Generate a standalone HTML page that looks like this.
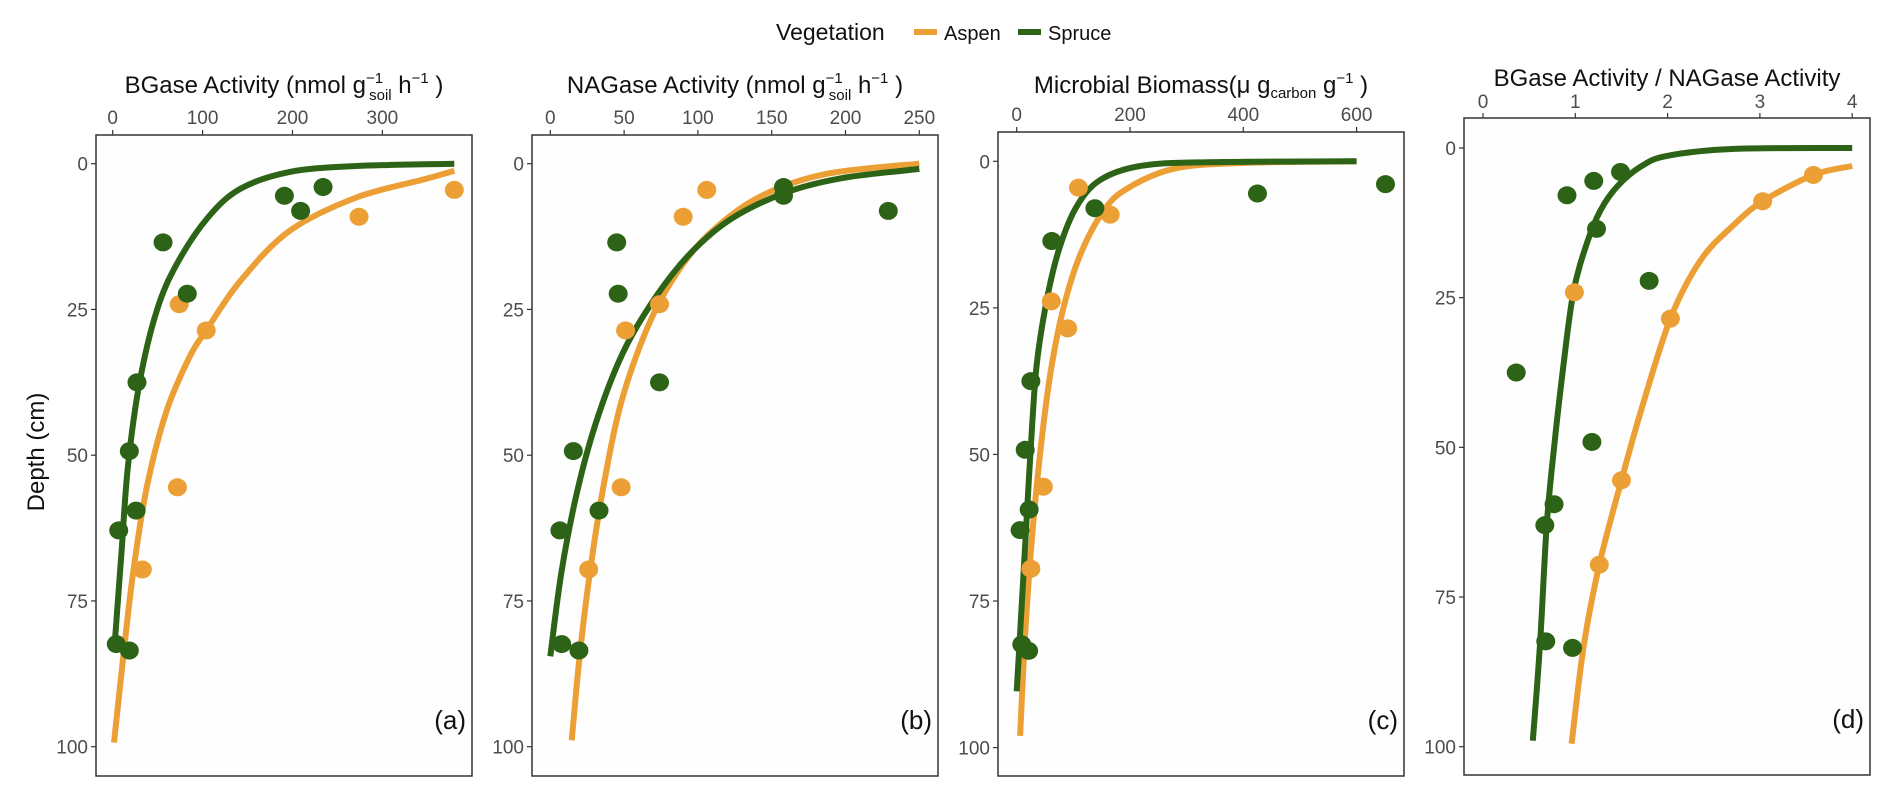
<!DOCTYPE html>
<html><head><meta charset="utf-8">
<style>
html,body{margin:0;padding:0;background:#fff;}
svg{display:block;font-family:"Liberation Sans",sans-serif;}
</style></head>
<body>
<svg id="chart" width="1892" height="788" viewBox="0 0 1892 788">
  <rect x="0" y="0" width="1892" height="788" fill="#ffffff"/>
  <g>
    <text x="776" y="40" font-size="23" fill="#111">Vegetation</text>
    <rect x="914" y="29" width="23" height="6" fill="#eb9f35"/>
    <text x="944" y="40" font-size="20" fill="#111">Aspen</text>
    <rect x="1018" y="29" width="23" height="6" fill="#2d6316"/>
    <text x="1048" y="40" font-size="20" fill="#111">Spruce</text>
  </g>
  <text transform="translate(44,452) rotate(-90)" text-anchor="middle" font-size="24" fill="#111">Depth (cm)</text>
  <g id="panels"></g>
</svg>
<script>
// ---- Panel (a) BGase ----
const aXTicks = [0, 100, 200, 300];
const aSpruceX = [234, 191, 209, 56, 83, 27, 18.5, 26, 6.7, 4, 18.5];
const aSpruceY = [4.0, 5.5, 8.1, 13.5, 22.3, 37.5, 49.3, 59.5, 62.9, 82.4, 83.5];
const aAspenX = [380, 274, 74, 104, 72, 33];
const aAspenY = [4.5, 9.1, 24.1, 28.6, 55.5, 69.6];
const aSpruceFitX = [2.6, 10, 17, 30, 49, 71, 105, 142, 197, 271, 380];
const aSpruceFitY = [81.7, 66.2, 51.8, 37.4, 25.2, 17.3, 9.4, 4.3, 1.4, 0.4, 0];
const aAspenFitX = [1.5, 12, 23, 38, 60, 86, 104, 142, 197, 271, 346, 380];
const aAspenFitY = [99.3, 84.2, 69.8, 55.4, 42.4, 33, 28.6, 20.1, 11.5, 5.8, 2.7, 1.2];
// ---- Panel (b) NAGase ----
const bXTicks = [0, 50, 100, 150, 200, 250];
const bSpruceX = [158, 158, 229, 45, 46, 74, 15.6, 33, 6.5, 7.7, 19.4];
const bSpruceY = [4.0, 5.5, 8.1, 13.5, 22.3, 37.5, 49.3, 59.5, 62.9, 82.4, 83.5];
const bAspenX = [106, 90, 74, 51, 48, 26];
const bAspenY = [4.5, 9.1, 24.1, 28.6, 55.5, 69.6];
const bSpruceFitX = [0, 7.7, 19, 32.5, 50.6, 73, 96, 123, 159, 197, 250];
const bSpruceFitY = [84.5, 69.8, 55.4, 43.2, 31.7, 22.3, 15.1, 9.4, 5, 2.5, 0.9];
const bAspenFitX = [14.5, 20, 27, 36, 48, 66, 84, 107, 141, 186, 250];
const bAspenFitY = [98.9, 84.2, 69.8, 55.4, 41, 28, 19.4, 12.2, 5.8, 1.8, 0];
// ---- Panel (c) Microbial biomass ----
const cXTicks = [0, 200, 400, 600];
const cSpruceX = [651, 425, 138, 62, 25, 15, 22, 6, 9, 21];
const cSpruceY = [3.9, 5.5, 8.0, 13.6, 37.5, 49.2, 59.4, 62.9, 82.4, 83.5];
const cAspenX = [109, 165, 61, 90, 47, 25];
const cAspenY = [4.5, 9.1, 23.9, 28.5, 55.5, 69.5];
const cSpruceFitX = [0, 6, 15, 24, 35, 53, 76, 106, 147, 218, 335, 600];
const cSpruceFitY = [90.4, 80.5, 65.4, 50.2, 35, 23.7, 14.6, 7.7, 3.2, 0.8, 0.15, 0];
const cAspenFitX = [6, 15, 26, 41, 59, 82, 112, 153, 194, 276, 394, 600];
const cAspenFitY = [98, 80.5, 65.4, 50.2, 36.5, 25.2, 16, 8.5, 4.7, 1.3, 0.3, 0];
// ---- Panel (d) BGase / NAGase ----
const dXTicks = [0, 1, 2, 3, 4];
const dSpruceX = [1.49, 1.20, 0.91, 1.23, 1.80, 0.36, 1.18, 0.77, 0.67, 0.68, 0.97];
const dSpruceY = [4.0, 5.5, 7.9, 13.5, 22.2, 37.5, 49.1, 59.5, 63.0, 82.4, 83.5];
const dAspenX = [3.58, 3.03, 0.99, 2.03, 1.50, 1.26];
const dAspenY = [4.5, 8.9, 24.1, 28.5, 55.5, 69.6];
const dSpruceFitX = [0.54, 0.62, 0.69, 0.77, 0.87, 0.98, 1.13, 1.27, 1.45, 1.71, 2.0, 2.72, 4];
const dSpruceFitY = [99, 82.4, 63, 50, 36.5, 24, 15.7, 10.5, 6.5, 3.1, 1.3, 0.15, 0];
const dAspenFitX = [0.96, 1.09, 1.26, 1.50, 1.71, 2.03, 2.36, 2.72, 3.03, 3.58, 4];
const dAspenFitY = [99.5, 83.3, 69.6, 55.5, 44, 28.5, 18.7, 12.8, 8.9, 4.5, 3];
const yTicks = [0, 25, 50, 75, 100];

const ASPEN = "#eb9f35", SPRUCE = "#2d6316";
const NS = "http://www.w3.org/2000/svg";
const root = document.getElementById("panels");

const panels = [
  {id:"a", left:96, right:472, top:135, bottom:776, x0v:0, x0p:112.7, xv:100, xp:269.7/3, y0p:163.7, yUnit:5.83,
   ticks:aXTicks, sx:aSpruceX, sy:aSpruceY, ax:aAspenX, ay:aAspenY, sfx:aSpruceFitX, sfy:aSpruceFitY, afx:aAspenFitX, afy:aAspenFitY,
   titleY:93, tickLblY:124, title:'BGase Activity (nmol g<tspan font-size="15" dy="-10">−1</tspan><tspan font-size="15" dx="-14" dy="17">soil</tspan><tspan dy="-7"> h</tspan><tspan font-size="15" dy="-10">−1</tspan><tspan dy="10"> )</tspan>'},
  {id:"b", left:532, right:938, top:135, bottom:776, x0v:0, x0p:550.3, xv:50, xp:221.4/3, y0p:163.7, yUnit:5.83,
   ticks:bXTicks, sx:bSpruceX, sy:bSpruceY, ax:bAspenX, ay:bAspenY, sfx:bSpruceFitX, sfy:bSpruceFitY, afx:bAspenFitX, afy:bAspenFitY,
   titleY:93, tickLblY:124, title:'NAGase Activity (nmol g<tspan font-size="15" dy="-10">−1</tspan><tspan font-size="15" dx="-14" dy="17">soil</tspan><tspan dy="-7"> h</tspan><tspan font-size="15" dy="-10">−1</tspan><tspan dy="10"> )</tspan>'},
  {id:"c", left:998, right:1404, top:132, bottom:776, x0v:0, x0p:1016.7, xv:200, xp:113.3, y0p:161.3, yUnit:5.863,
   ticks:cXTicks, sx:cSpruceX, sy:cSpruceY, ax:cAspenX, ay:cAspenY, sfx:cSpruceFitX, sfy:cSpruceFitY, afx:cAspenFitX, afy:cAspenFitY,
   titleY:93, tickLblY:121, title:'Microbial Biomass(μ g<tspan font-size="15" dy="5">carbon</tspan><tspan dy="-5"> g</tspan><tspan font-size="15" dy="-10">−1</tspan><tspan dy="10"> )</tspan>'},
  {id:"d", left:1464, right:1870, top:118, bottom:775, x0v:0, x0p:1483, xv:1, xp:92.3, y0p:148, yUnit:5.987,
   ticks:dXTicks, sx:dSpruceX, sy:dSpruceY, ax:dAspenX, ay:dAspenY, sfx:dSpruceFitX, sfy:dSpruceFitY, afx:dAspenFitX, afy:dAspenFitY,
   titleY:86, tickLblY:108, title:'BGase Activity / NAGase Activity'}
];

function mk(tag, attrs, parent){
  const e = document.createElementNS(NS, tag);
  for (const k in attrs) e.setAttribute(k, attrs[k]);
  parent.appendChild(e);
  return e;
}

function smoothPath(pts){
  let d = "M" + pts[0][0].toFixed(1) + "," + pts[0][1].toFixed(1);
  for (let i = 0; i < pts.length - 1; i++){
    const p0 = pts[Math.max(0, i-1)], p1 = pts[i], p2 = pts[i+1], p3 = pts[Math.min(pts.length-1, i+2)];
    const c1x = p1[0] + (p2[0]-p0[0])/6, c1y = p1[1] + (p2[1]-p0[1])/6;
    const c2x = p2[0] - (p3[0]-p1[0])/6, c2y = p2[1] - (p3[1]-p1[1])/6;
    d += " C" + c1x.toFixed(1) + "," + c1y.toFixed(1) + " " + c2x.toFixed(1) + "," + c2y.toFixed(1) + " " + p2[0].toFixed(1) + "," + p2[1].toFixed(1);
  }
  return d;
}

panels.forEach(p => {
  const X = v => p.x0p + (v - p.x0v) / p.xv * p.xp;
  const Y = v => p.y0p + v * p.yUnit;
  const g = mk("g", {}, root);
  
  
  const bg = mk("rect", {x:p.left, y:p.top, width:p.right-p.left, height:p.bottom-p.top, fill:"#fefefe", stroke:"#333", "stroke-width":1.5}, g);
  
  
  const cx = (p.left + p.right) / 2;
  const t = mk("text", {x:cx, y:p.titleY, "text-anchor":"middle", "font-size":24, fill:"#111"}, g);
  t.innerHTML = p.title;
  
  
  p.ticks.forEach(v => {
    const x = X(v);
    const tk = mk("line", {x1:x, x2:x, y1:p.top-5, y2:p.top, stroke:"#333", "stroke-width":1.2}, g);
    
    
    const tl = mk("text", {x:x, y:p.tickLblY, "text-anchor":"middle", "font-size":19, fill:"#4d4d4d"}, g);
    tl.textContent = v;
    
    
  });
  yTicks.forEach(v => {
    const y = Y(v);
    const tk = mk("line", {x1:p.left-5, x2:p.left, y1:y, y2:y, stroke:"#333", "stroke-width":1.2}, g);
    
    
    const tl = mk("text", {x:p.left-8, y:y+7, "text-anchor":"end", "font-size":19, fill:"#4d4d4d"}, g);
    tl.textContent = v;
    
    
  });
  const line = (xs, ys, col, name) => {
    const pts = xs.map((v,i) => [X(v), Y(ys[i])]);
    const l = mk("path", {d:smoothPath(pts), fill:"none", stroke:col, "stroke-width":6, "stroke-linejoin":"round", "stroke-linecap":"butt"}, g);
    
    
  };
  line(p.afx, p.afy, ASPEN, 'fit-line-aspen-' + p.id);
  line(p.sfx, p.sfy, SPRUCE, 'fit-line-spruce-' + p.id);
  p.ax.forEach((v,i) => {
    const c = mk("ellipse", {cx:X(v), cy:Y(p.ay[i]), rx:9.5, ry:9, fill:ASPEN}, g);
    
    
  });
  p.sx.forEach((v,i) => {
    const c = mk("ellipse", {cx:X(v), cy:Y(p.sy[i]), rx:9.5, ry:9, fill:SPRUCE}, g);
    
    
  });
  const pl = mk("text", {x:p.right-6, y:p.bottom-47, "text-anchor":"end", "font-size":26, fill:"#111"}, g);
  pl.textContent = "(" + p.id + ")";
  
  
});
</script>
</body></html>
